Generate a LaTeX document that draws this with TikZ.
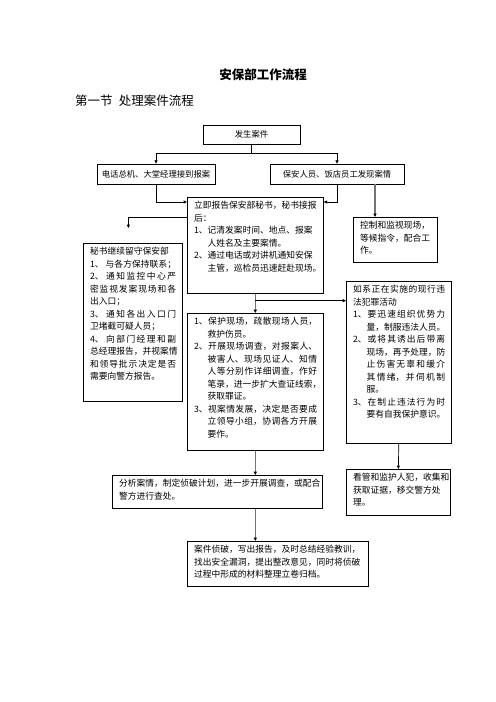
\documentclass[tikz,border=0pt]{standalone}
\usepackage{fontspec}
\setmainfont{Noto Sans CJK SC}
\usetikzlibrary{arrows.meta}
\XeTeXlinebreaklocale "zh"
\XeTeXlinebreakskip=0pt plus 3pt
\XeTeXlinebreakpenalty=10000

\newcommand{\cell}[3]{\parbox[t][#2][t]{#1}{\leftskip=6.5pt\rightskip=6pt\parfillskip=0pt plus 1fil\relax #3}}
\newcommand{\hang}{\phantom{1、}}

\tikzset{
	box/.style={draw, line width=0.8pt, inner xsep=1.5pt, inner ysep=5pt, anchor=north west,
		font=\fontsize{10.5pt}{15pt}\selectfont},
	tag/.style={draw, line width=0.8pt, inner sep=0pt, font=\fontsize{10pt}{12pt}\selectfont},
	link/.style={line width=0.8pt, -{Triangle[length=4pt,width=3.6pt]}},
	heavy link/.style={line width=1.4pt, draw=black!55, -{Triangle[length=4pt,width=3.6pt,color=black]}},
}

\begin{document}
\begin{tikzpicture}[x=1.2pt,y=-1.2pt]
	\useasboundingbox (0,0) rectangle (496,702);
	\node[font=\fontsize{15pt}{18pt}\selectfont\bfseries] (title) at (263,75) {安保部工作流程};
	\node[anchor=west, inner sep=0pt, font=\fontsize{15pt}{18pt}\selectfont] (section) at (75,101) {第一节\hspace{0.5em}处理案件流程};

	\node[tag, minimum width=116.4pt, minimum height=22.8pt] (occur) at (251.5,134.5) {发生案件};
	\node[tag, minimum width=141.6pt, minimum height=24pt] (phone) at (156,174) {电话总机、大堂经理接到报案};
	\node[tag, minimum width=160.8pt, minimum height=24pt] (guard) at (337,174) {保安人员、饭店员工发现案情};

	\node[box] (main) at (187,197) {\cell{160.2pt}{105.2pt}{立即报告保安部秘书，秘书接报\\后：\\1、记清发案时间、地点、报案\\\hang 人姓名及主要案情。\\2、通过电话或对讲机通知安保\\\hang 主管，巡检员迅速赶赴现场。}};
	\node[box] (ctrl) at (353,217) {\cell{97.8pt}{44pt}{控制和监视现场，\\等候指令，配合工\\作。}};
	\node[box] (left) at (83,243) {\cell{115.8pt}{179.6pt}{秘书继续留守保安部\\1、 与各方保持联系；\linebreak 2、 通知监控中心严\linebreak 密监视发案现场和各\linebreak 出入口；\\3、 通知各出入口门\linebreak 卫堵截可疑人员；\\4、 向部门经理和副\linebreak 总经理报告，并视案情\linebreak 和领导批示决定是否\linebreak 需要向警方报告。}};
	\node[box] (crime) at (346,281) {\cell{123pt}{184.4pt}{如系正在实施的现行违\linebreak 法犯罪活动\\1、要迅速组织优势力\linebreak \hang 量，制服违法人员。\\2、或将其诱出后带离\linebreak \hang 现场，再予处理，防\linebreak \hang 止伤害无辜和缓介\linebreak \hang 其情绪，并伺机制\linebreak \hang 服。\\3、在制止违法行为时\linebreak \hang 要有自我保护意识。}};
	\node[box] (act) at (187,313) {\cell{160.2pt}{154.4pt}{1、保护现场，疏散现场人员，\linebreak \hang 救护伤员。\\2、开展现场调查，对报案人、\linebreak \hang 被害人、现场见证人、知情\linebreak \hang 人等分别作详细调查，作好\linebreak \hang 笔录，进一步扩大查证线索，\linebreak \hang 获取罪证。\\3、视案情发展，决定是否要成\linebreak \hang 立领导小组，协调各方开展\linebreak \hang 要作。}};
	\node[box] (hold) at (346,469) {\cell{121.8pt}{45.2pt}{看管和监护人犯，收集和\\获取证据，移交警方处\\理。}};
	\node[box] (analyze) at (112,475) {\cell{249pt}{29.6pt}{分析案情，制定侦破计划，进一步开展调查，或配合\\警方进行查处。}};
	\node[box] (close) at (187,541) {\cell{214.2pt}{44pt}{案件侦破，写出报告，及时总结经验教训，\\找出安全漏洞，提出整改意见，同时将侦破\\过程中形成的材料整理立卷归档。}};

	\coordinate (split) at ([yshift=-10.8pt]occur.south);
	\draw[link] (occur.south) -- (split) -| (phone.north);
	\draw[link] (split) -| (guard.north);
	\draw[link] (phone.south) |- ([yshift=-6pt]main.north west);
	\draw[link] (guard.south) |- ([yshift=-6pt]main.north east);
	\coordinate (ctrlin) at ([xshift=26.4pt]ctrl.north west);
	\draw[heavy link] (ctrlin |- guard.south) -- (ctrlin);
	\draw[link] ([yshift=-24pt]main.north west) -| ([xshift=-5.4pt,yshift=18pt]left.north);
	\coordinate (fork) at ([yshift=-8.4pt]main.south);
	\draw[heavy link] (main.south) -- (act.north);
	\draw[link] (fork) -- (fork -| crime.west);
	\draw[link] (crime.south) -- (hold.north);
	\draw[heavy link] (act.south) -- (act.south |- analyze.north);
	\draw[heavy link] (act.south |- analyze.south) -- (act.south |- close.north);
\end{tikzpicture}
\end{document}
